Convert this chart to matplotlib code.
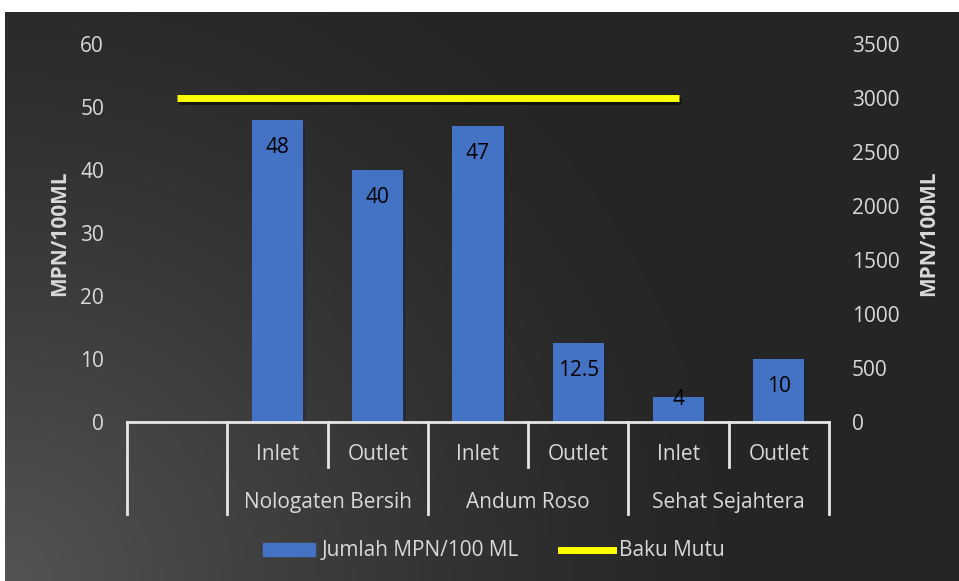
import numpy as np
import matplotlib.pyplot as plt
import matplotlib.patheffects as pe
from matplotlib.patches import Rectangle
from matplotlib.lines import Line2D

plt.rcParams['font.family'] = ['Open Sans', 'DejaVu Sans']

# Data
groups = ['Nologaten Bersih', 'Andum Roso', 'Sehat Sejahtera']
points = ['Inlet', 'Outlet']
mpn = [48, 40, 47, 12.5, 4, 10]          # Jumlah MPN/100 ML (left axis)
baku_mutu = [3000, 3000, 3000, 3000, 3000, 3000]  # Baku Mutu (right axis)

text_col = '#d9d9d9'
bar_col = '#4472C4'
fs = 15

W, H = 959, 581
fig = plt.figure(figsize=(W / 100, H / 100), dpi=100)
fig.patch.set_facecolor('white')

# dark background panel with a soft glow in the lower-left corner
bg = fig.add_axes([5 / W, 0, 1 - 5 / W, 1 - 12 / H])
bg.set_axis_off()
yy, xx = np.mgrid[0:569, 0:954]
d = np.hypot(xx / 954 * 1.6, (568 - yy) / 569)
shade = 0.149 + 0.18 * np.clip(1 - d / 1.2, 0, 1) ** 1.3
bg.imshow(np.dstack([shade] * 3), aspect='auto', extent=[0, 1, 0, 1])
bg.set_xlim(0, 1)
bg.set_ylim(0, 1)

ax = fig.add_axes([127 / W, 1 - 422 / H, (829 - 127) / W, (422 - 44) / H])
ax.set_facecolor('none')
ax2 = ax.twinx()

x = np.arange(1, len(mpn) + 1)
shadow = [pe.SimplePatchShadow(offset=(2, -2), alpha=0.35), pe.Normal()]
bars = ax.bar(x, mpn, width=0.51, color=bar_col, zorder=2, path_effects=shadow)

ax.set_xlim(-0.5, 6.5)
ax.set_ylim(0, 60)
ax.set_yticks(np.arange(0, 61, 10))
ax2.set_ylim(0, 3500)
ax2.set_yticks(np.arange(0, 3501, 500))

# Baku Mutu line, drawn from the first (empty) slot
xl = np.arange(len(baku_mutu))
ax2.plot(xl, baku_mutu, color='#ffff00', lw=5, solid_capstyle='butt', zorder=3,
         path_effects=[pe.SimpleLineShadow(offset=(1.5, -2.5), alpha=0.5), pe.Normal()])

# value labels inside the top of each bar
for xi, v in zip(x, mpn):
    ax.text(xi, max(v - 4.4, 3.6), f'{v:g}', ha='center', va='center',
            fontsize=fs, color='black', zorder=4)

for a in (ax, ax2):
    for s in a.spines.values():
        s.set_visible(False)
    a.tick_params(length=0, colors=text_col, labelsize=fs)
ax.tick_params(axis='y', pad=16.5)
ax2.tick_params(axis='y', pad=16.5)
ax.set_xticks([])

ax.set_ylabel('MPN/100ML', color=text_col, fontsize=fs, fontweight='bold')
ax2.set_ylabel('MPN/100ML', color=text_col, fontsize=fs, fontweight='bold')
ax.yaxis.set_label_coords(-0.0812, 0.5)
ax2.yaxis.set_label_coords(1.127, 0.5)

# multi-level category axis
lc = '#e6e6e6'
tr = ax.get_xaxis_transform()
ax.plot([-0.5, 6.5], [0, 0], color=lc, lw=2, transform=tr, clip_on=False, zorder=5)
long_y, short_y = -0.243, -0.119
for b in np.arange(-0.5, 7, 1):
    yb = short_y if b in (1.5, 3.5, 5.5) else long_y
    ax.plot([b, b], [0, yb], color=lc, lw=2, transform=tr, clip_on=False)
for i, xi in enumerate(x):
    ax.text(xi, -0.087, points[i % 2], ha='center', va='center',
            color=text_col, fontsize=fs, transform=tr)
for g, name in enumerate(groups):
    ax.text(1.5 + 2 * g, -0.212, name, ha='center', va='center',
            color=text_col, fontsize=fs, transform=tr)

handles = [Rectangle((0, 0), 1, 1, color=bar_col),
           Line2D([], [], color='#ffff00', lw=5)]
leg = fig.legend(handles, ['Jumlah MPN/100 ML', 'Baku Mutu'], loc='center',
                 bbox_to_anchor=(494 / W, 1 - 551 / H), ncol=2, frameon=False,
                 fontsize=fs, labelcolor=text_col, handlelength=2.5,
                 handleheight=0.6, handletextpad=0.3, columnspacing=2.0)

fig.savefig('out.png', dpi=100)
